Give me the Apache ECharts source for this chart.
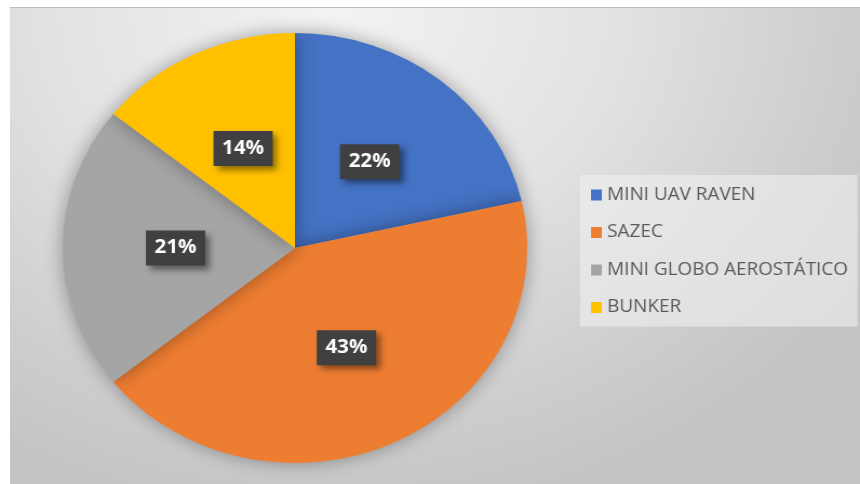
<!DOCTYPE html>
<html>
<head>
<meta charset="utf-8">
<script src="https://cdn.jsdelivr.net/npm/echarts@6/dist/echarts.min.js"></script>
<style>
  html, body { margin: 0; padding: 0; background: #fff; }
  #frame {
    position: absolute; left: 10px; top: 7px; width: 850px; height: 477px;
    border-top: 1px solid #bcbcbc;
    background: radial-gradient(ellipse 75% 110% at 38% 0%, #f3f3f3 0%, #e2e2e2 45%, #cdcdcd 80%, #c3c3c3 100%);
  }
  /* source image is stretched horizontally, so stretch the chart the same way */
  #chart {
    position: absolute; left: 0; top: 0; width: 796px; height: 484px;
    transform: scaleX(1.0804); transform-origin: 0 0;
  }
</style>
</head>
<body>
<div id="frame"></div>
<div id="chart"></div>
<script>
const categories = ['MINI UAV RAVEN', 'SAZEC', 'MINI GLOBO AEROSTÁTICO', 'BUNKER']
const shares = [21.5, 42.8, 21.4, 14.3]
const colors = ['#4472C4', '#ED7D31', '#A5A5A5', '#FFC000']

const myChart = echarts.init(document.getElementById('chart'))

let option = {
    backgroundColor: 'transparent',
    color: colors,
    legend: {
        orient: 'vertical',
        left: 537,
        top: 175,
        padding: [11, 9, 10, 10],
        backgroundColor: 'rgba(240,240,240,0.6)',
        itemWidth: 10,
        itemHeight: 11,
        itemGap: 19.5,
        icon: 'rect',
        textStyle: {
            fontFamily: 'Open Sans',
            fontSize: 17.5,
            color: '#595959'
        },
        data: categories
    },
    series: [
        {
            type: 'pie',
            center: [273, 248],
            radius: 215,
            startAngle: 90,
            clockwise: true,
            silent: true,
            itemStyle: {
                shadowBlur: 18,
                shadowColor: 'rgba(0,0,0,0.35)'
            },
            label: {
                position: 'inside',
                formatter: p => Math.round(p.percent) + '%',
                fontFamily: 'Open Sans',
                fontWeight: 'bold',
                fontSize: 19,
                color: '#fff',
                backgroundColor: '#404040',
                padding: [8, 8, 8, 8],
                shadowColor: 'rgba(0,0,0,0.45)',
                shadowBlur: 6,
                shadowOffsetX: 4,
                shadowOffsetY: 4
            },
            labelLine: { show: false },
            data: categories.map((c, i) => ({ name: c, value: shares[i] }))
        }
    ]
}

myChart.setOption(option)
</script>
</body>
</html>
